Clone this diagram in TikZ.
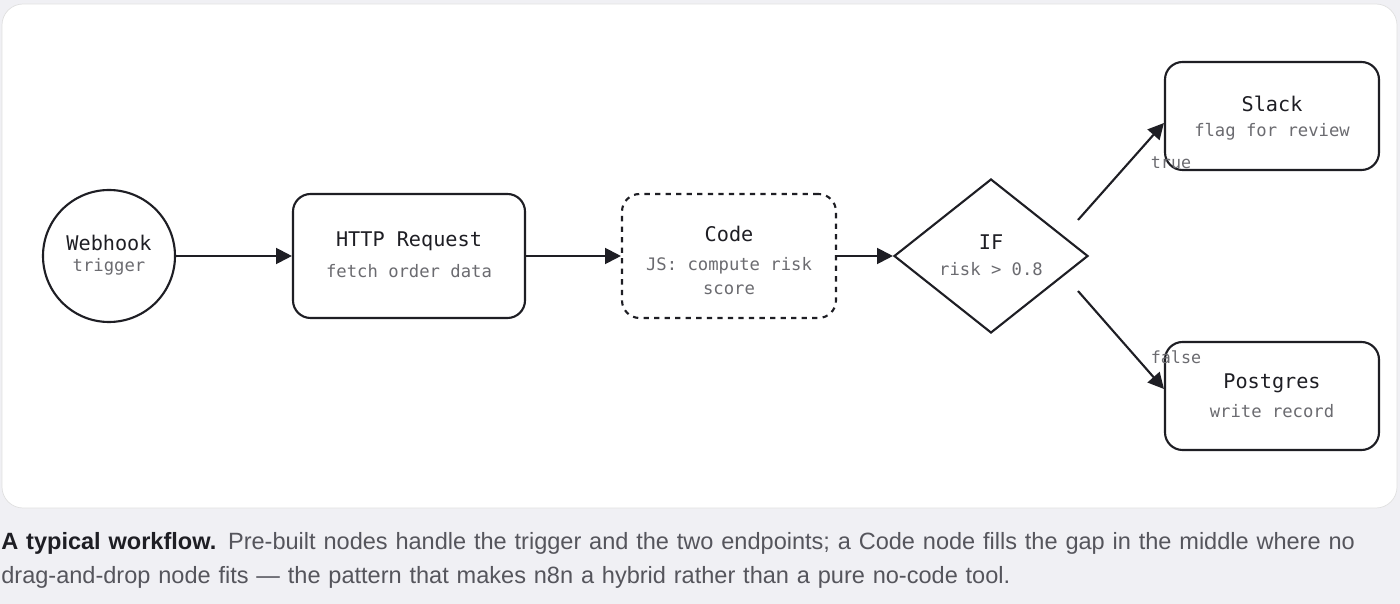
\documentclass[tikz,border=0pt]{standalone}
\usepackage{fontspec}
\setmainfont{Liberation Sans}
\newfontfamily\monofont{DejaVu Sans Mono}
\usetikzlibrary{shapes.geometric,arrows.meta}
\definecolor{pagebg}{HTML}{F0F0F4}
\definecolor{ink}{HTML}{1E1E24}
\definecolor{subink}{HTML}{6B6B70}
\definecolor{captionink}{HTML}{55555C}
\tikzset{
	box/.style={draw=ink,line width=1.2pt,rounded corners=10pt,fill=white},
	flow/.style={draw=ink,line width=1.2pt,-{Triangle[length=9pt,width=9pt]}},
	ttl/.style={font=\monofont\fontsize{11.5}{13}\selectfont,text=ink},
	sub/.style={font=\monofont\fontsize{9.8}{14}\selectfont,text=subink,align=center},
	edgelbl/.style={font=\monofont\fontsize{9.5}{11}\selectfont,text=subink}
}
\begin{document}
\begin{tikzpicture}[x=0.02cm,y=-0.02cm]
	\fill[pagebg] (0,0) rectangle (1400,604);
	\filldraw[fill=white,draw=black!12,rounded corners=12pt] (2,4) rectangle (1397,508);

	% nodes
	\node[circle,draw=ink,line width=1.2pt,minimum size=132*0.02cm,fill=white] (hook) at (109,256) {};
	\node[ttl] at (109,243) {Webhook};
	\node[sub] at (109,267) {trigger};

	\node[box,minimum width=232*0.02cm,minimum height=124*0.02cm] (http) at (409,256) {};
	\node[ttl] at (409,241) {HTTP Request};
	\node[sub] at (409,271) {fetch order data};

	\node[box,dashed,minimum width=214*0.02cm,minimum height=124*0.02cm] (code) at (729,256) {};
	\node[ttl] at (729,234) {Code};
	\node[sub] at (729,276) {JS: compute risk\\score};

	\node[diamond,draw=ink,line width=1.2pt,fill=white,minimum width=194*0.02cm,minimum height=154*0.02cm,inner sep=0pt] (cond) at (991,256) {};
	\node[ttl] at (991,242) {IF};
	\node[sub] at (991,269) {risk > 0.8};

	\node[box,minimum width=214*0.02cm,minimum height=108*0.02cm] (slack) at (1272,116) {};
	\node[ttl] at (1272,104) {Slack};
	\node[sub] at (1272,132) {flag for review};

	\node[box,minimum width=214*0.02cm,minimum height=108*0.02cm] (pg) at (1272,396) {};
	\node[ttl] at (1272,383) {Postgres};
	\node[sub] at (1272,411) {write record};

	% connectors
	\coordinate (condT) at (1078,220);
	\coordinate (condF) at (1078,291);
	\draw[flow] (hook) -- (http);
	\draw[flow] (http) -- (code);
	\draw[flow] (code) -- (cond);
	\draw[flow] (condT) -- (slack.west|-0,123);
	\draw[flow] (condF) -- (pg.west|-0,389);
	\node[edgelbl] at (1171,163) {true};
	\node[edgelbl] at (1176,357) {false};

	% caption
	\node[anchor=north west,align=left,text width=1390*0.02cm,font=\fontsize{13.4}{19.2}\selectfont,text=captionink,inner sep=0pt] at (1,532)
	{\textcolor{ink}{\textbf{A typical workflow.}} Pre-built nodes handle the trigger and the two endpoints; a Code node fills the gap in the middle where no drag-and-drop node fits — the pattern that makes n8n a hybrid rather than a pure no-code tool.};
\end{tikzpicture}
\end{document}
